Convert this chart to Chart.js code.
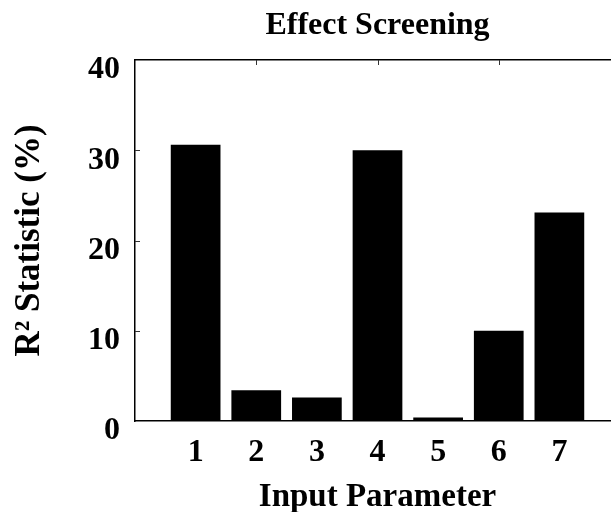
<!DOCTYPE html>
<html>
<head>
<meta charset="utf-8">
<script src="https://cdn.jsdelivr.net/npm/chart.js@4"></script>
<style>
  html, body { margin: 0; padding: 0; background: #fff; overflow: hidden; }
  canvas { display: block; }
</style>
</head>
<body>
<canvas id="chart" width="636" height="512"></canvas>
<script>
// values
const params = [1, 2, 3, 4, 5, 6, 7];
const r2Values = [30.6, 3.4, 2.6, 30.0, 0.4, 10.0, 23.1];
const yTicks = [0, 10, 20, 30, 40];
const yInnerTicks = [10, 20, 30];
const topInnerTicks = [2, 4, 6];

const serif = "'Liberation Serif', 'Times New Roman', serif";

// short tick marks pointing into the plot, placed with the scales
const innerTicks = {
  id: "innerTicks",
  afterDatasetsDraw(chart) {
    const { ctx, chartArea, scales } = chart;
    ctx.save();
    ctx.strokeStyle = "#333";
    ctx.lineWidth = 1;
    ctx.beginPath();
    yInnerTicks.forEach((v) => {
      const y = Math.round(scales.y.getPixelForValue(v)) + 0.5;
      ctx.moveTo(chartArea.left, y);
      ctx.lineTo(chartArea.left + 5, y);
    });
    topInnerTicks.forEach((v) => {
      const x = Math.round(scales.x2.getPixelForValue(v)) + 0.5;
      ctx.moveTo(x, chartArea.top);
      ctx.lineTo(x, chartArea.top + 5);
    });
    ctx.stroke();
    ctx.restore();
  },
};

const ctx = document.getElementById("chart").getContext("2d");
const chart = new Chart(ctx, {
  type: "bar",
  data: {
    datasets: [
      {
        label: "R2",
        data: params.map((p, i) => ({ x: p, y: r2Values[i] })),
        backgroundColor: "#000",
        borderWidth: 0,
        categoryPercentage: 1,
        barPercentage: 0.82,
      },
    ],
  },
  plugins: [innerTicks],
  options: {
    responsive: false,
    animation: false,
    layout: { padding: { left: 0, right: 2, top: 0, bottom: 0 } },
    plugins: {
      legend: { display: false },
      tooltip: { enabled: false },
      title: {
        display: true,
        text: "Effect Screening",
        fullSize: false,
        color: "#000",
        font: { family: serif, size: 32, weight: "bold", lineHeight: 1 },
        padding: { top: 10, bottom: 18 },
      },
    },
    scales: {
      x: {
        type: "linear",
        position: "bottom",
        min: 0,
        max: 8,
        offset: false,
        grid: { display: true, offset: false, drawOnChartArea: false, drawTicks: false },
        border: { display: true, color: "#000", width: 1.5 },
        ticks: {
          stepSize: 1,
          color: "#000",
          padding: 16,
          font: { family: serif, size: 32, weight: "bold", lineHeight: 1 },
          callback: (v) => (params.includes(v) ? String(v) : ""),
        },
        title: {
          display: true,
          text: "Input Parameter",
          color: "#000",
          font: { family: serif, size: 33, weight: "bold", lineHeight: 1 },
          padding: { top: -4, bottom: -2 },
        },
      },
      x2: {
        type: "linear",
        position: "top",
        min: 0,
        max: 8,
        offset: false,
        grid: { drawOnChartArea: false, drawTicks: false },
        border: { display: true, color: "#000", width: 1.5 },
        ticks: { display: false, stepSize: 2 },
      },
      y: {
        min: 0,
        max: 40,
        afterBuildTicks: (axis) => {
          axis.ticks = yTicks.map((v) => ({ value: v }));
        },
        grid: { drawOnChartArea: false, drawTicks: false },
        border: { display: true, color: "#000", width: 1.5 },
        ticks: {
          color: "#000",
          padding: 15,
          labelOffset: 10,
          font: { family: serif, size: 32, weight: "bold", lineHeight: 1 },
        },
        title: {
          display: true,
          text: "R² Statistic (%)",
          color: "#000",
          font: { family: serif, size: 35, weight: "bold", lineHeight: 1 },
          padding: { top: 12, bottom: 26 },
        },
      },
    },
  },
});
</script>
</body>
</html>
